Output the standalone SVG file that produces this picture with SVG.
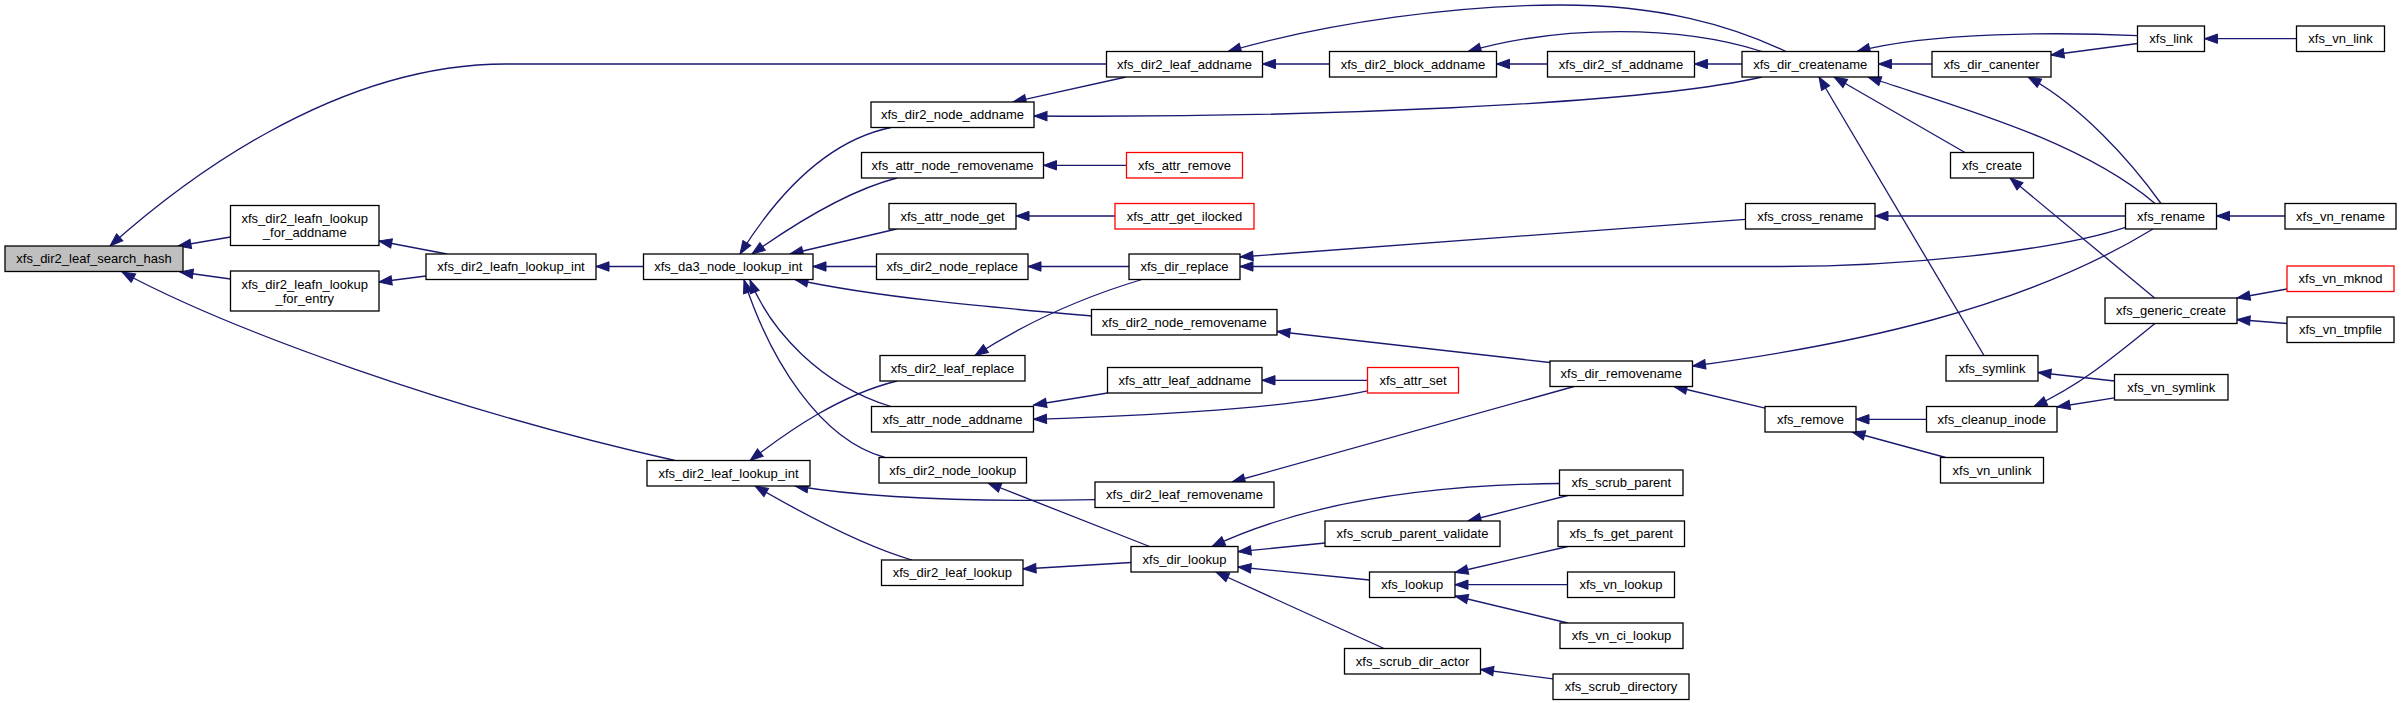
<svg xmlns="http://www.w3.org/2000/svg" width="2401" height="703" viewBox="0 0 2401 703">
<style>
.n rect{fill:#fff;stroke:#000;stroke-width:1.3}
.n.red rect{stroke:#ff0000}
.n.root rect{fill:#bfbfbf}
text{font-family:"Liberation Sans",Arial,Helvetica,sans-serif;font-size:13px;text-anchor:middle;fill:#000}
.e path{fill:none;stroke:#191970;stroke-width:1.3;marker-start:url(#a)}
</style>
<defs>
<marker id="a" markerUnits="userSpaceOnUse" markerWidth="14" markerHeight="10" refX="13" refY="4.7" orient="auto-start-reverse" overflow="visible">
<path d="M0,0 L13,4.7 L0,9.4 z" fill="#191970" stroke="#191970" stroke-width="1"/>
</marker>
</defs>
<rect width="2401" height="703" fill="#fff"/>
<g id="connectors" class="e">
<path d="M110,246 C175,188 330,64 506,64 L1106.5,64"/>
<path d="M178,246 L230.5,237"/>
<path d="M180,272 L230.5,279"/>
<path d="M122,272 C230,330 450,410 675,460.5"/>
<path d="M378.8,241 L447,254"/>
<path d="M378.8,282 L426,276"/>
<path d="M596,266.5 L643.5,266.5"/>
<path d="M740,254 C780,190 830,140 891,127.5"/>
<path d="M752,254 C800,220 850,190 897,178"/>
<path d="M790,254 L896.5,229"/>
<path d="M813,266.5 L876.5,266.5"/>
<path d="M795,279.5 C880,298 1000,308 1091.5,316"/>
<path d="M750,280 C770,330 820,385 891,406.5"/>
<path d="M744,280 C770,360 820,440 885,457.5"/>
<path d="M975,355.5 C1030,320 1090,295 1142,279.5"/>
<path d="M750,460.5 C790,430 840,395 897,381"/>
<path d="M1028,266.5 L1129,266.5"/>
<path d="M1034,116 C1300,118 1640,105 1762,77"/>
<path d="M1013,102 L1126,77"/>
<path d="M1043.5,165.3 L1126.5,165.3"/>
<path d="M1016,216 L1115,216"/>
<path d="M1262.5,64 L1329.5,64"/>
<path d="M1228,51.5 C1330,22 1460,5 1560,5 C1660,5 1730,25 1786,51.5"/>
<path d="M1496.5,64 L1547.5,64"/>
<path d="M1468,51.5 C1560,25 1680,25 1762,51.5"/>
<path d="M1694.5,64 L1742,64"/>
<path d="M1878.5,64 L1932,64"/>
<path d="M1857,51.5 C1930,32 2060,32 2137.5,35.7"/>
<path d="M2051,55 L2137.5,43.5"/>
<path d="M2204.5,38.7 L2296.5,38.7"/>
<path d="M1834,77 L1965,152.5"/>
<path d="M1868,77 C1960,108 2080,140 2155,203.5"/>
<path d="M1819,77 L1984,355.5"/>
<path d="M2028,77 C2080,105 2130,160 2161,203.5"/>
<path d="M1875,216 L2125.5,216"/>
<path d="M2216.5,216 L2285,216"/>
<path d="M1240,257 L1745.5,219.3"/>
<path d="M1240,266.5 L1780,266.5 C1900,266.5 2050,252 2125.5,227.3"/>
<path d="M1692.5,366 C1850,345 2020,310 2153,229"/>
<path d="M2010,178 L2154.6,298"/>
<path d="M2034,406.5 C2080,385 2110,360 2155,323.5"/>
<path d="M2237,298 L2287,289"/>
<path d="M2237,319.5 L2287,323.5"/>
<path d="M2038,372.5 L2114.5,381"/>
<path d="M2057,407 L2114.5,397.8"/>
<path d="M1856,419.3 L1926.5,419.3"/>
<path d="M1852,432 L1945.7,457.5"/>
<path d="M1674,386.5 L1765,408.2"/>
<path d="M1277,331.5 L1550,362.5"/>
<path d="M1232,482 L1574,386.5"/>
<path d="M1033.5,405 L1107.5,393"/>
<path d="M1033.5,419.3 C1200,414 1300,405 1367.5,390.8"/>
<path d="M1262,380.3 L1367.5,380.3"/>
<path d="M795,486 C870,498 980,502 1095,499.6"/>
<path d="M755,486 C800,512 860,545 912,560"/>
<path d="M988,483 L1149.6,546.5"/>
<path d="M1023,569 L1131,562.5"/>
<path d="M1212,546.5 C1300,505 1420,485 1559.5,483.5"/>
<path d="M1238,551.7 L1325,543"/>
<path d="M1238,567 L1369.5,580"/>
<path d="M1216,572 L1384,648.5"/>
<path d="M1468,521 L1567.7,495.5"/>
<path d="M1455,572.5 L1567.7,546.5"/>
<path d="M1455,584.7 L1567.5,584.7"/>
<path d="M1455,596 L1567.7,623"/>
<path d="M1480.5,669.5 L1553,678.8"/>
</g>
<g id="xfs_dir2_leaf_search_hash" class="n root"><rect x="5" y="246" width="178" height="25.5"/><text x="94" y="263.3">xfs_dir2_leaf_search_hash</text></g>
<g id="xfs_dir2_leafn_lookup_for_addname" class="n"><rect x="230.5" y="205.5" width="148.5" height="40"/><text x="304.75" y="223">xfs_dir2_leafn_lookup</text><text x="304.75" y="237">_for_addname</text></g>
<g id="xfs_dir2_leafn_lookup_for_entry" class="n"><rect x="230.5" y="271" width="148.5" height="40"/><text x="304.75" y="288.5">xfs_dir2_leafn_lookup</text><text x="304.75" y="302.5">_for_entry</text></g>
<g id="xfs_dir2_leafn_lookup_int" class="n"><rect x="426" y="254" width="170" height="25.5"/><text x="511" y="271.3">xfs_dir2_leafn_lookup_int</text></g>
<g id="xfs_da3_node_lookup_int" class="n"><rect x="643.5" y="254" width="169.5" height="25.5"/><text x="728.25" y="271.3">xfs_da3_node_lookup_int</text></g>
<g id="xfs_dir2_leaf_lookup_int" class="n"><rect x="647" y="460.5" width="163" height="25.5"/><text x="728.5" y="477.8">xfs_dir2_leaf_lookup_int</text></g>
<g id="xfs_dir2_leaf_addname" class="n"><rect x="1106.5" y="51.5" width="156" height="25.5"/><text x="1184.5" y="68.8">xfs_dir2_leaf_addname</text></g>
<g id="xfs_dir2_node_addname" class="n"><rect x="871" y="102" width="163" height="25.5"/><text x="952.5" y="119.3">xfs_dir2_node_addname</text></g>
<g id="xfs_attr_node_removename" class="n"><rect x="861.5" y="152.5" width="182" height="25.5"/><text x="952.5" y="169.8">xfs_attr_node_removename</text></g>
<g id="xfs_attr_node_get" class="n"><rect x="889" y="203.5" width="127" height="25.5"/><text x="952.5" y="220.8">xfs_attr_node_get</text></g>
<g id="xfs_dir2_node_replace" class="n"><rect x="876.5" y="254" width="151.5" height="25.5"/><text x="952.25" y="271.3">xfs_dir2_node_replace</text></g>
<g id="xfs_dir2_node_removename" class="n"><rect x="1091.5" y="309.5" width="185.5" height="25.5"/><text x="1184.25" y="326.8">xfs_dir2_node_removename</text></g>
<g id="xfs_dir2_leaf_replace" class="n"><rect x="880" y="355.5" width="145" height="25.5"/><text x="952.5" y="372.8">xfs_dir2_leaf_replace</text></g>
<g id="xfs_attr_node_addname" class="n"><rect x="871.5" y="406.5" width="162" height="25.5"/><text x="952.5" y="423.8">xfs_attr_node_addname</text></g>
<g id="xfs_dir2_node_lookup" class="n"><rect x="879" y="457.5" width="147.5" height="25.5"/><text x="952.75" y="474.8">xfs_dir2_node_lookup</text></g>
<g id="xfs_dir2_leaf_removename" class="n"><rect x="1095" y="482" width="179" height="25.5"/><text x="1184.5" y="499.3">xfs_dir2_leaf_removename</text></g>
<g id="xfs_dir2_leaf_lookup" class="n"><rect x="881.5" y="560" width="141.5" height="25.5"/><text x="952.25" y="577.3">xfs_dir2_leaf_lookup</text></g>
<g id="xfs_attr_remove" class="n red"><rect x="1126.5" y="152.5" width="116" height="25.5"/><text x="1184.5" y="169.8">xfs_attr_remove</text></g>
<g id="xfs_attr_get_ilocked" class="n red"><rect x="1115" y="203.5" width="139" height="25.5"/><text x="1184.5" y="220.8">xfs_attr_get_ilocked</text></g>
<g id="xfs_dir_replace" class="n"><rect x="1129" y="254" width="111" height="25.5"/><text x="1184.5" y="271.3">xfs_dir_replace</text></g>
<g id="xfs_attr_leaf_addname" class="n"><rect x="1107.5" y="367.5" width="154.5" height="25.5"/><text x="1184.75" y="384.8">xfs_attr_leaf_addname</text></g>
<g id="xfs_dir_lookup" class="n"><rect x="1131" y="546.5" width="107" height="25.5"/><text x="1184.5" y="563.8">xfs_dir_lookup</text></g>
<g id="xfs_dir2_block_addname" class="n"><rect x="1329.5" y="51.5" width="167" height="25.5"/><text x="1413" y="68.8">xfs_dir2_block_addname</text></g>
<g id="xfs_dir2_sf_addname" class="n"><rect x="1547.5" y="51.5" width="147" height="25.5"/><text x="1621" y="68.8">xfs_dir2_sf_addname</text></g>
<g id="xfs_dir_createname" class="n"><rect x="1742" y="51.5" width="136.5" height="25.5"/><text x="1810.25" y="68.8">xfs_dir_createname</text></g>
<g id="xfs_cross_rename" class="n"><rect x="1745.5" y="203.5" width="129.5" height="25.5"/><text x="1810.25" y="220.8">xfs_cross_rename</text></g>
<g id="xfs_dir_removename" class="n"><rect x="1550" y="361" width="142.5" height="25.5"/><text x="1621.25" y="378.3">xfs_dir_removename</text></g>
<g id="xfs_attr_set" class="n red"><rect x="1367.5" y="367.5" width="91" height="25.5"/><text x="1413" y="384.8">xfs_attr_set</text></g>
<g id="xfs_scrub_parent" class="n"><rect x="1559.5" y="470" width="123.5" height="25.5"/><text x="1621.25" y="487.3">xfs_scrub_parent</text></g>
<g id="xfs_scrub_parent_validate" class="n"><rect x="1325" y="521" width="175" height="25.5"/><text x="1412.5" y="538.3">xfs_scrub_parent_validate</text></g>
<g id="xfs_fs_get_parent" class="n"><rect x="1558" y="521" width="126.5" height="25.5"/><text x="1621.25" y="538.3">xfs_fs_get_parent</text></g>
<g id="xfs_lookup" class="n"><rect x="1369.5" y="572" width="85.5" height="25.5"/><text x="1412.25" y="589.3">xfs_lookup</text></g>
<g id="xfs_vn_lookup" class="n"><rect x="1567.5" y="572" width="107" height="25.5"/><text x="1621" y="589.3">xfs_vn_lookup</text></g>
<g id="xfs_vn_ci_lookup" class="n"><rect x="1560" y="623" width="123" height="25.5"/><text x="1621.5" y="640.3">xfs_vn_ci_lookup</text></g>
<g id="xfs_scrub_dir_actor" class="n"><rect x="1344.5" y="648.5" width="136" height="25.5"/><text x="1412.5" y="665.8">xfs_scrub_dir_actor</text></g>
<g id="xfs_scrub_directory" class="n"><rect x="1553" y="674" width="136" height="25.5"/><text x="1621" y="691.3">xfs_scrub_directory</text></g>
<g id="xfs_dir_canenter" class="n"><rect x="1932" y="51.5" width="119" height="25.5"/><text x="1991.5" y="68.8">xfs_dir_canenter</text></g>
<g id="xfs_link" class="n"><rect x="2137.5" y="26" width="67" height="25.5"/><text x="2171" y="43.3">xfs_link</text></g>
<g id="xfs_vn_link" class="n"><rect x="2296.5" y="26" width="88" height="25.5"/><text x="2340.5" y="43.3">xfs_vn_link</text></g>
<g id="xfs_create" class="n"><rect x="1950.5" y="152.5" width="83" height="25.5"/><text x="1992" y="169.8">xfs_create</text></g>
<g id="xfs_rename" class="n"><rect x="2125.5" y="203.5" width="91" height="25.5"/><text x="2171" y="220.8">xfs_rename</text></g>
<g id="xfs_vn_rename" class="n"><rect x="2285" y="203.5" width="111" height="25.5"/><text x="2340.5" y="220.8">xfs_vn_rename</text></g>
<g id="xfs_vn_mknod" class="n red"><rect x="2287" y="266" width="107" height="25.5"/><text x="2340.5" y="283.3">xfs_vn_mknod</text></g>
<g id="xfs_generic_create" class="n"><rect x="2105" y="298" width="132" height="25.5"/><text x="2171" y="315.3">xfs_generic_create</text></g>
<g id="xfs_vn_tmpfile" class="n"><rect x="2287" y="317" width="107" height="25.5"/><text x="2340.5" y="334.3">xfs_vn_tmpfile</text></g>
<g id="xfs_symlink" class="n"><rect x="1946" y="355.5" width="92" height="25.5"/><text x="1992" y="372.8">xfs_symlink</text></g>
<g id="xfs_vn_symlink" class="n"><rect x="2114.5" y="374.5" width="113.5" height="25.5"/><text x="2171.25" y="391.8">xfs_vn_symlink</text></g>
<g id="xfs_remove" class="n"><rect x="1765" y="406.5" width="91" height="25.5"/><text x="1810.5" y="423.8">xfs_remove</text></g>
<g id="xfs_cleanup_inode" class="n"><rect x="1926.5" y="406.5" width="130.5" height="25.5"/><text x="1991.75" y="423.8">xfs_cleanup_inode</text></g>
<g id="xfs_vn_unlink" class="n"><rect x="1940.5" y="457.5" width="103" height="25.5"/><text x="1992" y="474.8">xfs_vn_unlink</text></g>
</svg>
